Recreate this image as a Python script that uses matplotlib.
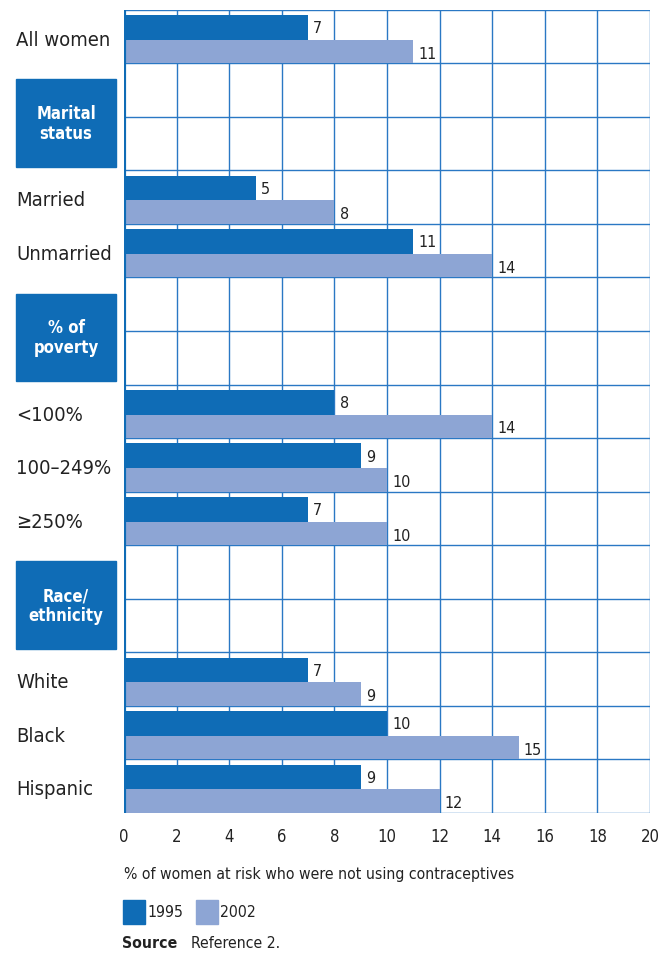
import matplotlib
matplotlib.use("Agg")
import matplotlib.pyplot as plt
from matplotlib.patches import Rectangle
from matplotlib.transforms import blended_transform_factory

# ---- data ----
categories = ["All women", "Married", "Unmarried", "<100%", "100\u2013249%", "\u2265250%",
              "White", "Black", "Hispanic"]
values_1995 = [7, 5, 11, 8, 9, 7, 7, 10, 9]
values_2002 = [11, 8, 14, 14, 10, 10, 9, 15, 12]
headers = ["Marital\nstatus", "% of\npoverty", "Race/\nethnicity"]
series_names = ["1995", "2002"]
xticks = [0, 2, 4, 6, 8, 10, 12, 14, 16, 18, 20]
xlabel = "% of women at risk who were not using contraceptives"

# row layout (row index of each category / header block)
cat_rows = [0, 3, 4, 7, 8, 9, 12, 13, 14]
header_rows = [1, 5, 10]
n_rows = 15

DARK = "#0f6cb6"
LIGHT = "#8da5d4"
GRID = "#2a78c4"
TXT = "#222222"

plt.rcParams['font.family'] = ['DejaVu Sans']
plt.rcParams['font.stretch'] = 'condensed'

W, H = 668, 954
fig = plt.figure(figsize=(W / 100, H / 100), dpi=100)
ax = fig.add_axes([124 / W, 1 - 814 / H, (650 - 124) / W, (814 - 10.7) / H])
ax.set_xlim(0, 20)
ax.set_ylim(n_rows, 0)

# grid
for x in xticks:
    ax.axvline(x, color=GRID, lw=1.0, zorder=0)
for r in range(n_rows + 1):
    ax.axhline(r, color=GRID, lw=1.0, zorder=0)

# bars
y1 = [r + 0.335 for r in cat_rows]
y2 = [r + 0.78 for r in cat_rows]
ax.barh(y1, values_1995, height=0.47, color=DARK, zorder=2)
ax.barh(y2, values_2002, height=0.44, color=LIGHT, zorder=2)

for y, v in zip(y1, values_1995):
    ax.text(v + 0.2, y, str(v), va="center", ha="left", fontsize=11.5, color=TXT, zorder=3)
for y, v in zip(y2, values_2002):
    ax.text(v + 0.2, y + 0.03, str(v), va="center", ha="left", fontsize=11.5, color=TXT, zorder=3)

# spines
for s in ax.spines.values():
    s.set_visible(False)
ax.axvline(0, color=DARK, lw=3, zorder=4)

ax.set_yticks([])
ax.set_xticks(xticks)
ax.set_xticklabels([str(t) for t in xticks], fontsize=12, color=TXT)
ax.tick_params(axis="x", length=0, pad=10)

# category labels
tr = blended_transform_factory(fig.transFigure, ax.transData)
for r, c in zip(cat_rows, categories):
    ax.text(16 / W, r + 0.55, c, transform=tr, ha="left", va="center", fontsize=14.5,
            color=TXT)

# header boxes
for r, h in zip(header_rows, headers):
    ax.add_patch(Rectangle((16 / W, r + 0.3), 100 / W, 1.63, transform=tr, color=DARK,
                           clip_on=False, zorder=5))
    ax.text(66 / W, r + 1.12, h, transform=tr, ha="center", va="center", fontsize=12,
            color="white", fontweight="bold", linespacing=1.15, zorder=6)

# x label
fig.text(124 / W, 1 - 875 / H, xlabel, ha="left", va="center", fontsize=11.3, color=TXT)

# legend
for x0, col, name in [(123, DARK, series_names[0]), (196, LIGHT, series_names[1])]:
    fig.add_artist(Rectangle((x0 / W, 1 - 925 / H), 22 / W, 24 / H, transform=fig.transFigure,
                             color=col))
    fig.text((x0 + 24) / W, 1 - 913 / H, name, ha="left", va="center", fontsize=11.3,
             color=TXT)

fig.text(122 / W, 1 - 944 / H, "Source", ha="left", va="center", fontsize=11.3,
         fontweight="bold", color=TXT)
fig.text(191 / W, 1 - 944 / H, "Reference 2.", ha="left", va="center", fontsize=11.3,
         color=TXT)

fig.savefig("out.png", dpi=100)
